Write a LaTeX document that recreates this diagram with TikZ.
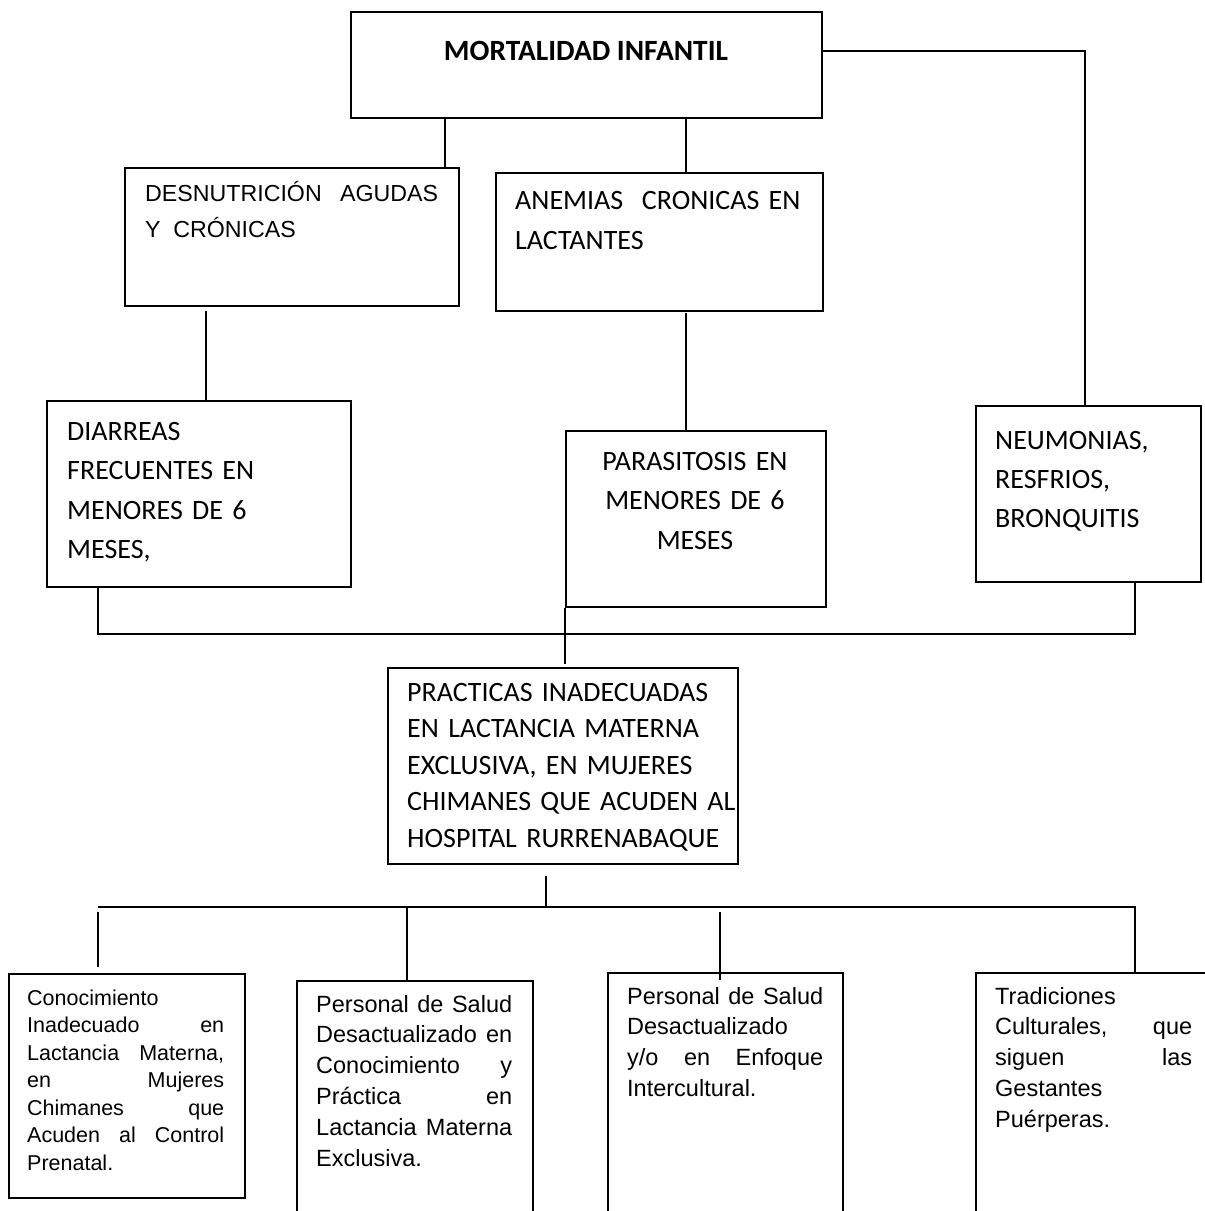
\documentclass[tikz,border=0pt]{standalone}
\usepackage{fontspec}
\setmainfont{Liberation Sans}
\newfontfamily\calfont{Carlito}
\newfontfamily\arialfont{Liberation Sans}
\begin{document}
\begin{tikzpicture}[x=1pt,y=-1pt,
  box/.style={draw, line width=1.5pt, rectangle, inner sep=0pt, anchor=north west},
  conn/.style={line width=1.5pt},
  txt/.style={inner sep=0pt, anchor=base west},
  calbig/.style={font=\calfont\fontsize{28}{39.5}\selectfont},
  arsmall/.style={font=\arialfont\fontsize{21.5}{27.5}\selectfont},
  armid/.style={font=\arialfont\fontsize{23.5}{30.8}\selectfont}]
\useasboundingbox (0,0) rectangle (1205,1211);
% boxes
\node[box, minimum width=471pt, minimum height=106pt] (top) at (350,11) {};
\node[box, minimum width=334pt, minimum height=138pt] (desn) at (124,167) {};
\node[box, minimum width=327pt, minimum height=138pt] (anem) at (495,172) {};
\node[box, minimum width=304pt, minimum height=186pt] (diar) at (46,400) {};
\node[box, minimum width=260pt, minimum height=176pt] (paras) at (565,430) {};
\node[box, minimum width=225pt, minimum height=176pt] (neum) at (975,405) {};
\node[box, minimum width=350pt, minimum height=196pt] (prac) at (387,667) {};
\node[box, minimum width=236pt, minimum height=224pt] (b1) at (8,973) {};
\node[box, minimum width=236pt, minimum height=260pt] (b2) at (296,980) {};
\node[box, minimum width=235pt, minimum height=260pt] (b3) at (607,972) {};
\node[box, minimum width=245pt, minimum height=260pt] (b4) at (975,972) {};
% texts
\node[inner sep=0pt, anchor=base, font=\calfont\bfseries\fontsize{29.4}{34}\selectfont] (ttop) at (586,60) {MORTALIDAD INFANTIL};
\node[txt, text width=293pt, font=\arialfont\fontsize{23.2}{36}\selectfont] (tdesn) at (145,201)
  {DESNUTRICIÓN\hfill AGUDAS\\ Y\hspace{0.55em}CRÓNICAS};
\node[txt, text width=295pt, font=\calfont\fontsize{28}{40}\selectfont] (tanem) at (515,209)
  {ANEMIAS\ \ CRONICAS EN\\ LACTANTES};
\node[txt, calbig, text width=270pt] (tdiar) at (67,440)
  {DIARREAS\\ FRECUENTES EN\\ MENORES DE 6\\ MESES,};
\node[inner sep=0pt, anchor=base, calbig, text width=250pt, align=center] (tparas) at (695,470)
  {PARASITOSIS EN\\ MENORES DE 6\\ MESES};
\node[txt, text width=200pt, font=\calfont\fontsize{28}{39}\selectfont] (tneum) at (995,449)
  {NEUMONIAS,\\ RESFRIOS,\\ BRONQUITIS};
\node[txt, text width=330pt, font=\calfont\fontsize{28}{36.5}\selectfont] (tprac) at (407,701)
  {PRACTICAS INADECUADAS\\ EN LACTANCIA MATERNA\\ EXCLUSIVA, EN MUJERES\\ CHIMANES QUE ACUDEN AL\\ HOSPITAL RURRENABAQUE};
\node[txt, arsmall, text width=197pt] (tb1) at (27,1005)
  {Conocimiento\\ Inadecuado\hfill en\\ Lactancia\hfill Materna,\\ en\hfill Mujeres\\ Chimanes\hfill que\\ Acuden\hfill al\hfill Control\\ Prenatal.};
\node[txt, armid, text width=196pt] (tb2) at (316,1012)
  {Personal\hfill de\hfill Salud\\ Desactualizado\hfill en\\ Conocimiento\hfill y\\ Práctica\hfill en\\ Lactancia\hfill Materna\\ Exclusiva.};
\node[txt, armid, text width=196pt] (tb3) at (627,1004)
  {Personal\hfill de\hfill Salud\\ Desactualizado\\ y/o\hfill en\hfill Enfoque\\ Intercultural.};
\node[txt, armid, text width=197pt] (tb4) at (995,1004)
  {Tradiciones\\ Culturales,\hfill que\\ siguen\hfill las\\ Gestantes\\ Puérperas.};
% connectors
\coordinate (r1) at (1085,51);
\draw[conn] (top.east |- r1) -- (r1) -- (r1 |- neum.north);
\coordinate (xa) at (445,0);
\draw[conn] (xa |- top.south) -- (xa |- desn.north);
\coordinate (xb) at (686,0);
\draw[conn] (xb |- top.south) -- (xb |- anem.north);
\coordinate (xc) at (206,311);
\draw[conn] (xc) -- (xc |- diar.north);
\coordinate (xd) at (686,313);
\draw[conn] (xd) -- (xd |- paras.north);
\coordinate (j1) at (98,588);
\coordinate (j2) at (98,634);
\coordinate (j3) at (1135,634);
\draw[conn] (j1) -- (j2) -- (j3) -- (j3 |- neum.south);
\coordinate (xe) at (565,664);
\draw[conn] (paras.south west) -- (xe);
\coordinate (xf) at (546,876);
\coordinate (xg) at (546,907);
\draw[conn] (xf) -- (xg);
\coordinate (h1) at (98,907);
\coordinate (h2) at (1135,907);
\draw[conn] (h1) -- (h2) -- (h2 |- b4.north);
\coordinate (t1) at (98,912);
\coordinate (t1e) at (98,967);
\draw[conn] (t1) -- (t1e);
\coordinate (t2) at (407,907);
\draw[conn] (t2) -- (t2 |- b2.north);
\coordinate (t3) at (720,912);
\coordinate (t3e) at (720,980);
\draw[conn] (t3) -- (t3e);
\end{tikzpicture}
\end{document}
